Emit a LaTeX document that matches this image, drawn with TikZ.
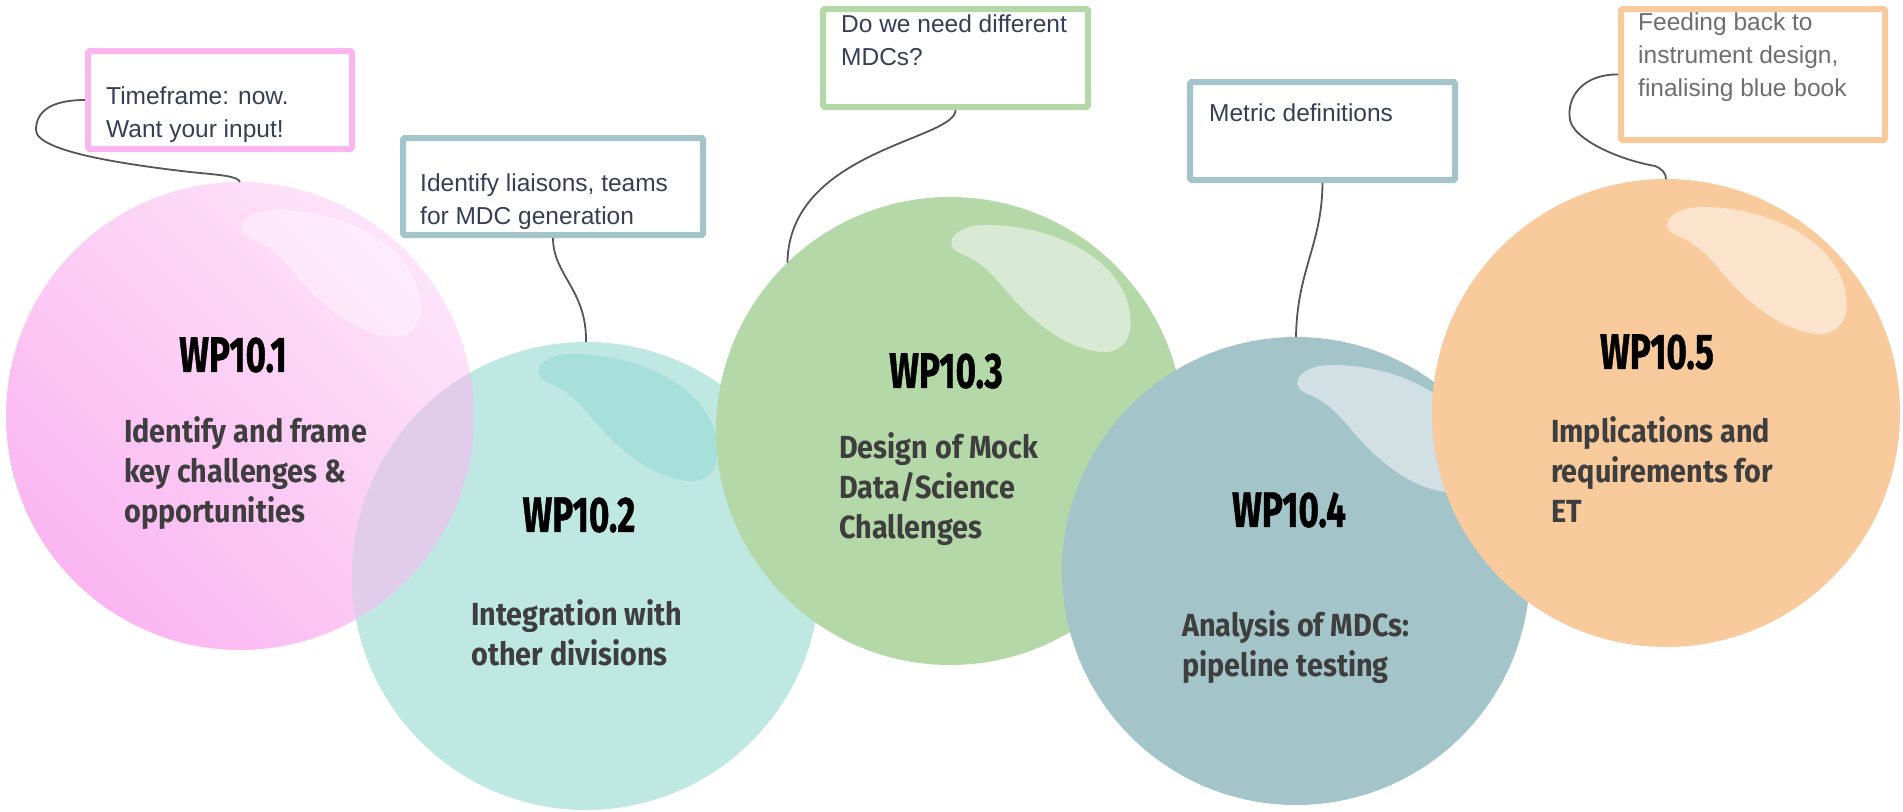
\documentclass[tikz,border=0pt]{standalone}
\usepackage{fontspec}
\setmainfont{Liberation Sans}
\newfontfamily\wpfont[FakeStretch=0.70,FakeBold=0.8]{Fira Sans}
\newfontfamily\descfont[FakeStretch=0.9]{Fira Sans}
\def\gloss(#1)#2% Syntax: (bubble centre) {fill options}
    { \fill[#2,shift={(#1)}] (14,-176) .. controls (-12,-185) and (5,-207) .. (37,-206)
        .. controls (105,-206) and (175,-170) .. (180,-116)
        .. controls (184,-92) and (170,-78) .. (153,-79)
        .. controls (125,-80) and (95,-100) .. (72,-123)
        .. controls (50,-145) and (40,-165) .. (14,-176) -- cycle; }
\definecolor{pinkdark}{RGB}{251,182,241}
\definecolor{pinklight}{RGB}{253,228,249}
\definecolor{pinkline}{RGB}{251,182,240}
\definecolor{overlap}{RGB}{226,204,236}
\definecolor{tealfill}{RGB}{191,232,227}
\definecolor{tealgloss}{RGB}{167,223,218}
\definecolor{greenfill}{RGB}{181,216,168}
\definecolor{greengloss}{RGB}{216,234,211}
\definecolor{greyfill}{RGB}{163,196,200}
\definecolor{greygloss}{RGB}{208,224,227}
\definecolor{orangefill}{RGB}{248,202,156}
\definecolor{orangegloss}{RGB}{251,227,204}
\definecolor{desctext}{RGB}{62,62,62}
\definecolor{notetext}{RGB}{54,63,85}
\definecolor{notegrey}{RGB}{110,110,110}
\definecolor{linkgrey}{RGB}{85,85,85}

\begin{document}
\begin{tikzpicture}[x=1pt,y=-1pt,
    bubble/.style={circle,minimum size=468pt,inner sep=0pt,outer sep=0pt},
    wptitle/.style={font=\wpfont\bfseries\fontsize{50}{56}\selectfont,inner sep=0pt},
    wpdesc/.style={font=\descfont\bfseries\fontsize{32}{40}\selectfont,text=desctext,align=left,anchor=west,inner sep=0pt},
    note/.style={draw=#1,line width=6pt,rounded corners=1.5pt,fill=white,inner sep=0pt},
    notetext/.style={font=\fontsize{24.5}{33}\selectfont,text=notetext,align=left,anchor=west,inner sep=0pt},
    link/.style={draw=linkgrey,line width=1.8pt}]

    \useasboundingbox (0,0) rectangle (1903,811);

    % bubbles, left to right, each one over the one before
    \node[bubble,top color=pinklight,bottom color=pinkdark,shading angle=-45] (wp1) at (240,416) {};
    \gloss(wp1.center){white,opacity=0.35}
    \node[bubble,fill=tealfill] (wp2) at (586,576) {};
    \begin{scope}
        \clip (wp1.center) circle (234pt);
        \fill[overlap] (wp2.center) circle (234pt);
    \end{scope}
    \gloss([shift={(-49,-16)}]wp2.center){tealgloss}
    \node[bubble,fill=greenfill] (wp3) at (950,431) {};
    \gloss(wp3.center){greengloss}
    \node[bubble,fill=greyfill] (wp4) at (1296,571) {};
    \gloss(wp4.center){greygloss}
    \node[bubble,fill=orangefill] (wp5) at (1666,413) {};
    \gloss(wp5.center){orangegloss}

    \node[wptitle] (t1) at ([shift={(-7,-61)}]wp1.center) {WP10.1};
    \node[wptitle] (t2) at ([shift={(-7,-61)}]wp2.center) {WP10.2};
    \node[wptitle] (t3) at ([shift={(-4,-60)}]wp3.center) {WP10.3};
    \node[wptitle] (t4) at ([shift={(-7,-61)}]wp4.center) {WP10.4};
    \node[wptitle] (t5) at ([shift={(-9,-61)}]wp5.center) {WP10.5};

    \node[wpdesc] (d1) at ([shift={(-116,57)}]wp1.center) {Identify and frame\\key challenges \&\\opportunities};
    \node[wpdesc] (d2) at ([shift={(-115,57)}]wp2.center) {Integration with\\other divisions};
    \node[wpdesc] (d3) at ([shift={(-111,58)}]wp3.center) {Design of Mock\\Data/Science\\Challenges};
    \node[wpdesc] (d4) at ([shift={(-114,76)}]wp4.center) {Analysis of MDCs:\\pipeline testing};
    \node[wpdesc] (d5) at ([shift={(-115,57)}]wp5.center) {Implications and\\requirements for\\ET};

    % notes above the bubbles
    \node[note=pinkline,minimum width=264pt,minimum height=98pt] (box1) at (220,100) {};
    \node[notetext] (n1) at (106,115) {Timeframe: now.\\Want your input!};
    \node[note=greyfill,minimum width=300pt,minimum height=97pt] (box2) at (553,186.5) {};
    \node[notetext] (n2) at (420,201.5) {Identify liaisons, teams\\for MDC generation};
    \node[note=greenfill,minimum width=265pt,minimum height=98pt] (box3) at (955.5,58) {};
    \node[notetext] (n3) at (841,40) {Do we need different\\MDCs?};
    \node[note=greyfill,minimum width=265pt,minimum height=98pt] (box4) at (1322.5,131) {};
    \node[notetext] (n4) at (1209,113) {Metric definitions};
    \node[note=orangefill,minimum width=264pt,minimum height=131pt] (box5) at (1753,74.5) {};
    \node[notetext,text=notegrey] (n5) at (1638,57) {Feeding back to\\instrument design,\\finalising blue book};

    \draw[link] (box1.west) .. controls (50,100) and (36,112) .. (36,130)
        .. controls (36,152) and (130,165) .. (190,172)
        .. controls (220,175) and (238,176) .. (wp1.north);
    \draw[link] (box2.south) .. controls (553,275) and (587,290) .. (wp2.north);
    \draw[link] (box3.south) .. controls (956,140) and (789,150) .. (wp3.134);
    \draw[link] (box4.south) .. controls (1322,245) and (1297,270) .. (wp4.north);
    \draw[link] (box5.west) .. controls (1585,74) and (1566,95) .. (1570,120)
        .. controls (1574,140) and (1620,160) .. (1655,166)
        .. controls (1662,169) and (1666,173) .. (wp5.north);
\end{tikzpicture}
\end{document}
